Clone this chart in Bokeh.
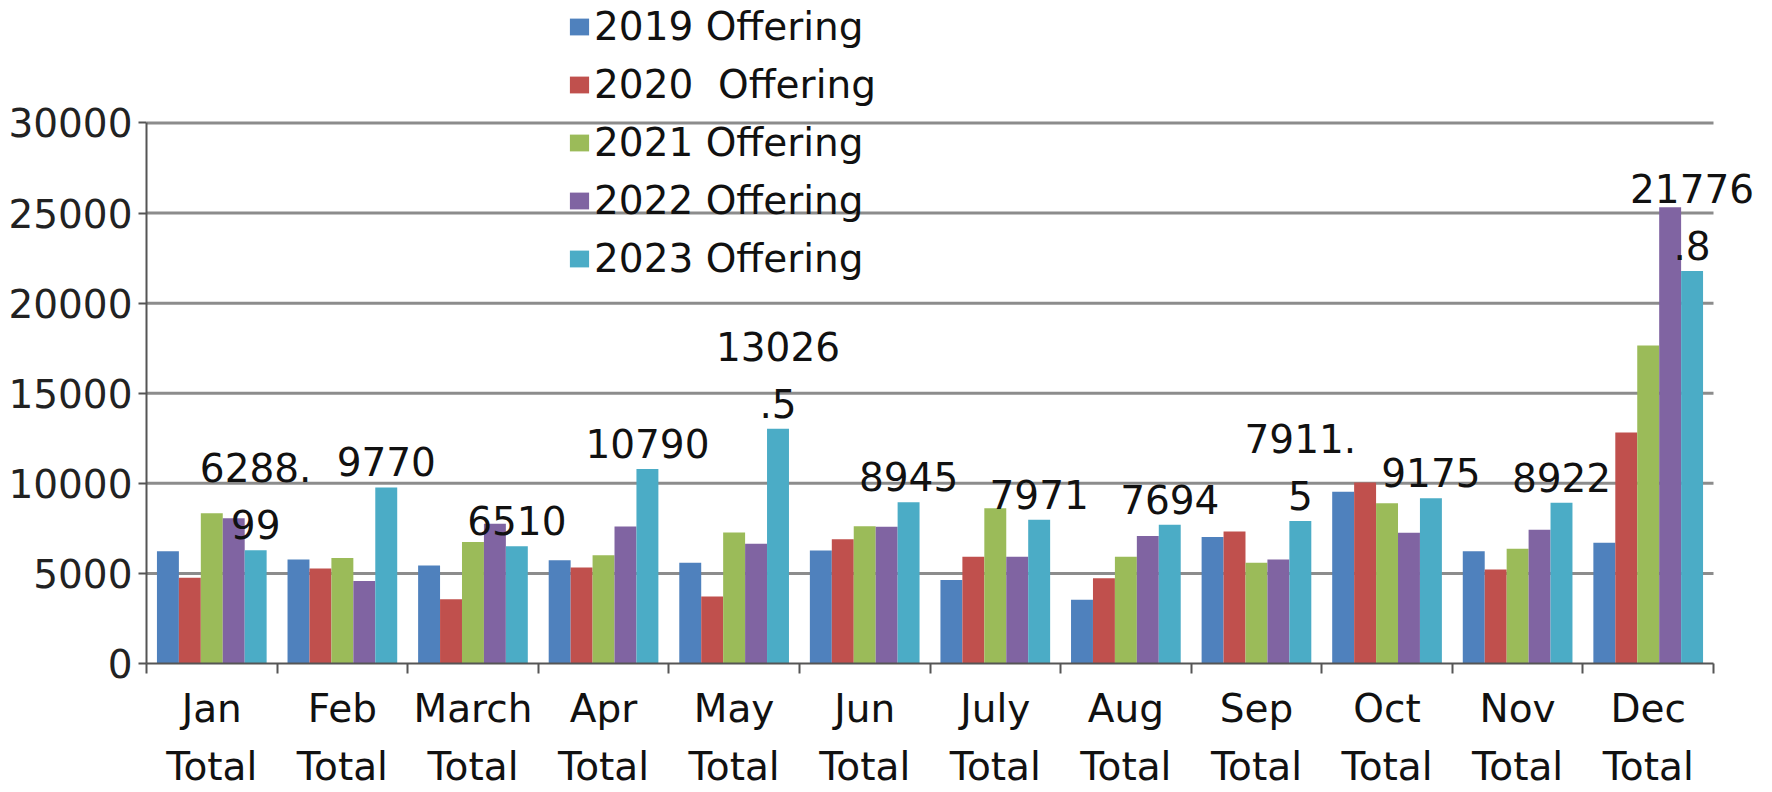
from bokeh.plotting import figure
from bokeh.models import ColumnDataSource, Range1d, FixedTicker, Legend, LegendItem, LabelSet
from bokeh.transform import dodge
from bokeh.core.properties import value
from bokeh.embed import file_html
from bokeh.resources import INLINE

months = ["Jan", "Feb", "March", "Apr", "May", "Jun", "July", "Aug", "Sep", "Oct", "Nov", "Dec"]
series_names = ["2019 Offering", "2020  Offering", "2021 Offering", "2022 Offering", "2023 Offering"]
v2019 = [6230, 5770, 5440, 5730, 5590, 6265, 4635, 3535, 7015, 9525, 6230, 6705]
v2020 = [4760, 5275, 3570, 5330, 3720, 6890, 5920, 4725, 7330, 10040, 5220, 12825]
v2021 = [8335, 5860, 6740, 6010, 7270, 7620, 8610, 5920, 5590, 8900, 6375, 17650]
v2022 = [8060, 4580, 7750, 7600, 6650, 7590, 5920, 7070, 5770, 7255, 7420, 25320]
v2023 = [6288.99, 9770, 6510, 10790, 13026.5, 8945, 7971, 7694, 7911.5, 9175, 8922, 21776.8]
y_ticks = [0, 5000, 10000, 15000, 20000, 25000, 30000]
colors = ["#4F81BD", "#C0504D", "#9BBB59", "#8064A2", "#4BACC6"]

FONT = "DejaVu Sans"
FS = "39px"

# layout (pixels)
W, H = 1772, 792
LEFT, BOTTOM = 146, 126          # frame left edge / space below frame
AX_RIGHT_PX = 1713               # where the category axis ends
AX_TOP_PX = 123                  # where the value axis top tick sits
LABEL_GAP = 11                   # data label baseline above bar top
LABEL_LINE = 57                  # data label line spacing


def wrap(v, n=5):
    s = f"{v:g}"
    return [s[i:i + n] for i in range(0, len(s), n)]


n = len(months)
x0, x1 = -0.5, n - 0.5
y0, y1 = y_ticks[0], y_ticks[-1]
frame_w = W - LEFT
frame_h = H - BOTTOM
x_end = x0 + (x1 - x0) * frame_w / (AX_RIGHT_PX - LEFT)
y_end = y0 + (y1 - y0) * frame_h / (frame_h - AX_TOP_PX)

parts = [wrap(v) for v in v2023]
lab_top = [pp[0] if len(pp) > 1 else "" for pp in parts]
lab_bot = [pp[-1] for pp in parts]

cols = ["v2019", "v2020", "v2021", "v2022", "v2023"]
src = ColumnDataSource(dict(
    x=list(range(n)),
    v2019=v2019, v2020=v2020, v2021=v2021, v2022=v2022, v2023=v2023,
    lab_top=lab_top, lab_bot=lab_bot,
))

p = figure(width=W, height=H, output_backend="svg", toolbar_location=None,
           x_range=Range1d(x0, x_end), y_range=Range1d(y0, y_end),
           min_border_left=LEFT, min_border_right=0, min_border_top=0, min_border_bottom=BOTTOM)
p.outline_line_color = None
p.background_fill_color = "white"
p.border_fill_color = "white"
p.xgrid.grid_line_color = None
p.ygrid.grid_line_color = None

# horizontal gridlines (only across the category axis extent)
gl = y_ticks[1:]
p.segment(x0=[x0] * len(gl), x1=[x1] * len(gl), y0=gl, y1=gl,
          line_color="#8c8c8c", line_width=3)

bw = 0.168
renderers = []
for i, (c, col) in enumerate(zip(cols, colors)):
    r = p.vbar(x=dodge("x", (i - 2) * bw), top=c, width=bw, bottom=0, source=src,
               fill_color=col, line_color=None)
    renderers.append(r)

for col_name, off in (("lab_bot", LABEL_GAP), ("lab_top", LABEL_GAP + LABEL_LINE)):
    p.add_layout(LabelSet(x=dodge("x", 2 * bw), y="v2023", text=col_name, source=src,
                          text_align="center", text_baseline="alphabetic", y_offset=off,
                          text_font=value(FONT), text_font_size=value(FS),
                          text_color="#111111"))

# axes
xa = p.xaxis[0]
xa.bounds = (x0, x1)
xa.ticker = FixedTicker(ticks=list(range(n)), minor_ticks=[i - 0.5 for i in range(n + 1)])
xa.major_label_overrides = {i: f"{m}\nTotal" for i, m in enumerate(months)}
xa.major_tick_line_color = None
xa.minor_tick_out = 10
xa.minor_tick_in = 0
xa.minor_tick_line_color = "#555555"
xa.minor_tick_line_width = 2
xa.axis_line_color = "#555555"
xa.axis_line_width = 2
xa.major_label_text_font = FONT
xa.major_label_text_font_size = FS
xa.major_label_text_color = "#111111"
xa.major_label_text_line_height = 1.30
xa.major_label_standoff = 12

ya = p.yaxis[0]
ya.bounds = (y0, y1)
ya.ticker = FixedTicker(ticks=y_ticks, minor_ticks=[])
ya.major_tick_out = 8
ya.major_tick_in = 0
ya.major_tick_line_color = "#555555"
ya.major_tick_line_width = 2
ya.axis_line_color = "#555555"
ya.axis_line_width = 2
ya.major_label_text_font = FONT
ya.major_label_text_font_size = FS
ya.major_label_text_color = "#222222"
ya.major_label_standoff = 6

legend = Legend(items=[LegendItem(label=nm, renderers=[r]) for nm, r in zip(series_names, renderers)],
                location=(421, 376), orientation="vertical",
                glyph_width=24, glyph_height=21, label_standoff=3,
                label_height=57, spacing=1, padding=0, margin=0,
                border_line_color=None, background_fill_alpha=0,
                label_text_font=FONT, label_text_font_size=FS, label_text_color="#111111")
p.add_layout(legend, "center")

open("out.html", "w").write(file_html(p, INLINE))
